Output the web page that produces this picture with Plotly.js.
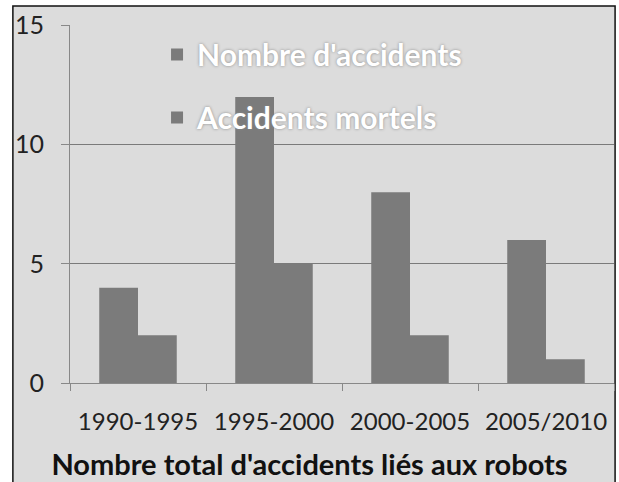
<!DOCTYPE html>
<html><head><meta charset="utf-8">
<script src="https://cdn.plot.ly/plotly-3.0.1.min.js"></script>
<style>html,body{margin:0;padding:0;background:#fff;}#c{width:619px;height:482px;}</style>
</head><body><div id="c"></div>
<script>
var categories = ['1990-1995','1995-2000','2000-2005','2005/2010'];
var nombreAccidents = [4,12,8,6];
var accidentsMortels = [2,5,2,1];
var seriesNames = ["Nombre d'accidents","Accidents mortels"];
var yTicks = [0,5,10,15];
var chartTitle = "Nombre total d'accidents liés aux robots";

var font = 'Lato, "Open Sans", sans-serif';
var traces = [
  {type:'bar', x:categories, y:nombreAccidents, name:seriesNames[0], legendgroup:'a',
   marker:{color:'#7b7b7b'}},
  {type:'bar', x:categories, y:accidentsMortels, name:seriesNames[1], legendgroup:'b',
   marker:{color:'#7b7b7b'}}
];
var layout = {
  width:619, height:482,
  margin:{l:70, r:5, t:25, b:99},
  paper_bgcolor:'#ffffff', plot_bgcolor:'#dadada',
  barmode:'group', bargap:0.43, bargroupgap:0,
  font:{family:font, color:'#222', size:23},
  showlegend:true,
  title:{text:chartTitle, x:0.5, xref:'container', xanchor:'center',
    y:0.036, yref:'container', yanchor:'middle',
    font:{family:font, size:29, color:'#111', weight:'bold'}},
  legend:{x:0.16, y:0.99, xanchor:'left', yanchor:'top', bgcolor:'rgba(0,0,0,0)',
    traceorder:'grouped', tracegroupgap:21, itemwidth:30,
    font:{family:font, size:30, color:'#ffffff', weight:'bold', shadow:'0px 0px 3px #888'}},
  xaxis:{type:'category', tickson:'boundaries', ticks:'outside', ticklen:7, tickcolor:'#888',
    showline:true, linecolor:'#888', showgrid:false, ticklabelstandoff:17, tickangle:0,
    tickfont:{family:font, size:24, color:'#222'}},
  yaxis:{range:[0,15.02], tickvals:yTicks, ticks:'outside', ticklen:8, tickcolor:'#888',
    showline:true, linecolor:'#888', gridcolor:'#7a7a7a', zeroline:false,
    ticklabelstandoff:12,
    tickfont:{family:font, size:25, color:'#222'}},
  shapes:[
    {type:'rect', xref:'paper', yref:'paper', x0:-0.105, x1:1.002, y0:-0.4, y1:1.053,
     fillcolor:'#dcdcdc', line:{color:'#111', width:1.5}, layer:'below'}
  ]
};
Plotly.newPlot('c', traces, layout, {displayModeBar:false, staticPlot:true});
</script></body></html>
